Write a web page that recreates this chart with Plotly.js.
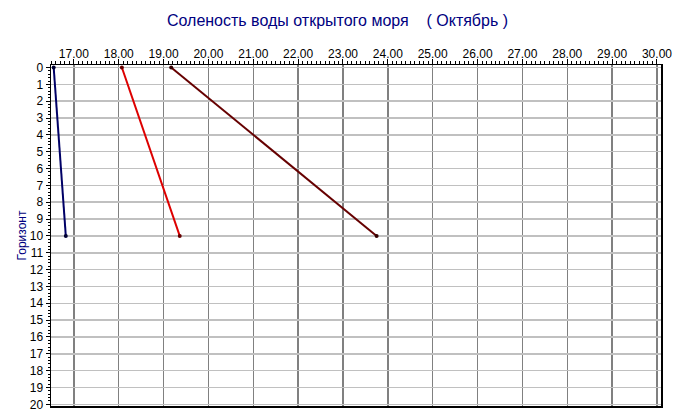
<!DOCTYPE html>
<html>
<head>
<meta charset="utf-8">
<script src="https://cdn.plot.ly/plotly-3.0.1.min.js"></script>
<style>
  html, body { margin: 0; padding: 0; background: #ffffff; }
  #chart { width: 675px; height: 419px; }
</style>
</head>
<body>
<div id="chart"></div>
<script>
// Depth horizons (m) and salinity profiles measured at each station
const depths = [0, 10];
const salinityStation1 = [16.55, 16.82];
const salinityStation2 = [18.07, 19.36];
const salinityStation3 = [19.17, 23.75];

const chartTitle = 'Соленость воды открытого моря\u00a0\u00a0\u00a0\u00a0( Октябрь )';
const depthAxisTitle = 'Горизонт';

const fontFamily = '"Liberation Sans", Arial, sans-serif';

function profile(xs, lineColor, markerColor) {
  return {
    type: 'scatter',
    mode: 'lines+markers',
    x: xs,
    y: depths,
    line: { color: lineColor, width: 2 },
    marker: { color: markerColor, size: 4 },
    hoverinfo: 'x+y',
    showlegend: false
  };
}

const traces = [
  profile(salinityStation1, '#000066', '#000033'),
  profile(salinityStation2, '#dd0000', '#660000'),
  profile(salinityStation3, '#660000', '#330000')
];

const layout = {
  width: 675,
  height: 419,
  paper_bgcolor: '#ffffff',
  plot_bgcolor: '#ffffff',
  margin: { l: 51, r: 14, t: 65, b: 13, pad: 0 },
  font: { family: fontFamily, size: 12, color: '#000000' },
  title: {
    text: chartTitle,
    x: 0.5,
    xanchor: 'center',
    y: 0.952,
    yanchor: 'middle',
    font: { family: fontFamily, size: 16, color: '#000080' }
  },
  xaxis: {
    side: 'top',
    range: [16.49, 30.09],
    autorange: false,
    tick0: 17,
    dtick: 1,
    tickformat: '.2f',
    ticks: 'outside',
    ticklen: 5,
    tickcolor: '#000000',
    ticklabelstandoff: -4,
    tickfont: { family: fontFamily, size: 12, color: '#000000' },
    showgrid: true,
    gridcolor: '#808080',
    gridwidth: 1.5,
    zeroline: false,
    showline: true,
    linecolor: '#000000',
    linewidth: 1.5,
    mirror: true,
    minor: { dtick: 0.1, ticks: 'outside', ticklen: 3, tickcolor: '#000000', showgrid: false }
  },
  yaxis: {
    range: [20.1, -0.15],
    autorange: false,
    tick0: 0,
    dtick: 1,
    ticks: 'outside',
    ticklen: 4,
    tickcolor: '#000000',
    tickfont: { family: fontFamily, size: 12, color: '#000000' },
    showgrid: true,
    gridcolor: '#c0c0c0',
    gridwidth: 1.5,
    zeroline: false,
    showline: true,
    linecolor: '#000000',
    linewidth: 1.5,
    mirror: true,
    minor: { dtick: 0.2, ticks: 'outside', ticklen: 2, tickcolor: '#000000', showgrid: false },
    title: {
      text: depthAxisTitle,
      standoff: 0,
      font: { family: fontFamily, size: 12, color: '#000080' }
    }
  }
};

Plotly.newPlot('chart', traces, layout, { displayModeBar: false, staticPlot: true });
</script>
</body>
</html>
